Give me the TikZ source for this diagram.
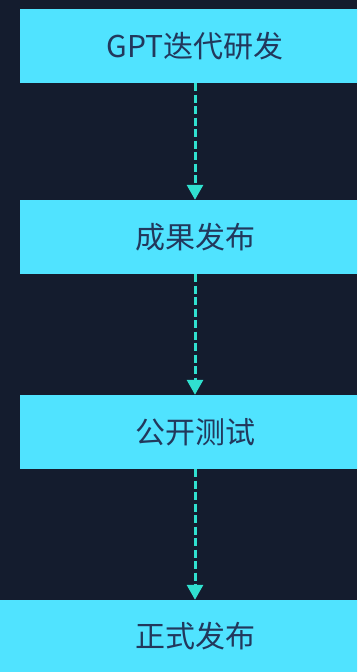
\documentclass[tikz,border=0pt]{standalone}
\usepackage{fontspec}
\newfontfamily\cjk{Noto Sans CJK SC}
\usetikzlibrary{arrows.meta}
\definecolor{bgc}{HTML}{141C2E}
\definecolor{boxc}{HTML}{50E3FF}
\definecolor{txtc}{HTML}{22385C}
\definecolor{arrc}{HTML}{30E0CF}
\begin{document}
\begin{tikzpicture}[x=1pt,y=1pt,
  stagebox/.style={fill=boxc, draw=none, minimum height=74pt, inner sep=0pt,
    font=\cjk\fontsize{30}{36}\selectfont, text=txtc},
  flowarrow/.style={draw=arrc, line width=3pt, dash pattern=on 8pt off 3.5pt,
    -{Triangle[width=16pt,length=15pt]}}]
\clip (0,0) rectangle (357,672);
\fill[bgc] (0,0) rectangle (357,672);
\node[stagebox, minimum width=350pt] (a) at (195,626) {GPT迭代研发};
\node[stagebox, minimum width=350pt] (b) at (195,435) {成果发布};
\node[stagebox, minimum width=350pt] (c) at (195,240) {公开测试};
\node[stagebox, minimum width=390pt, minimum height=72pt] (d) at (195,36) {正式发布};
\draw[flowarrow] (a.south) -- (b.north);
\draw[flowarrow] (b.south) -- (c.north);
\draw[flowarrow] (c.south) -- (d.north);
\end{tikzpicture}
\end{document}
